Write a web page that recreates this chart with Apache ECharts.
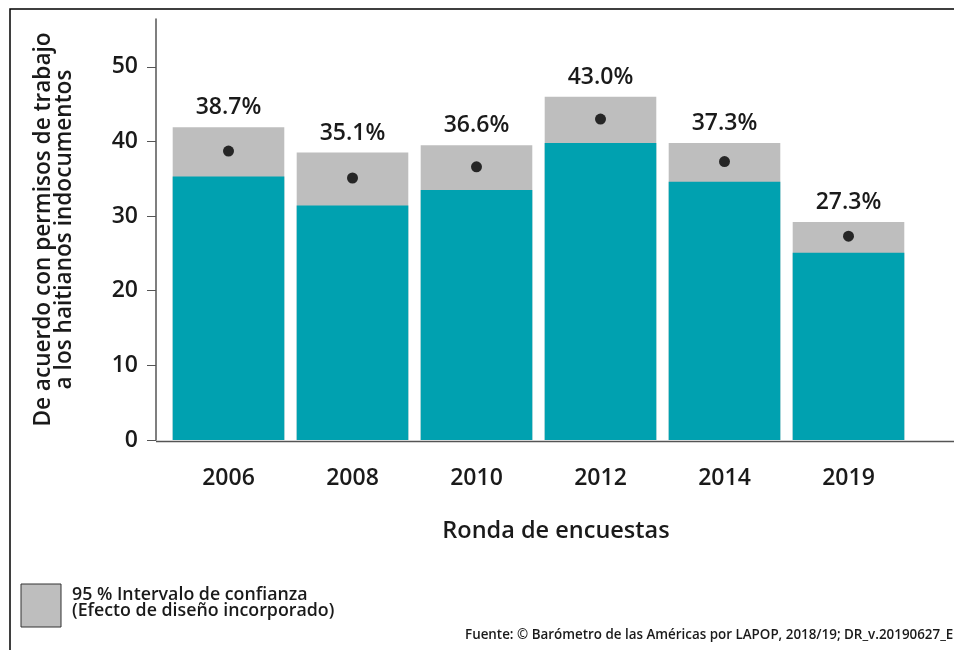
<!DOCTYPE html>
<html><head><meta charset="utf-8">
<script src="https://cdn.jsdelivr.net/npm/echarts@6/dist/echarts.min.js"></script>
<style>html,body{margin:0;padding:0;background:#fff}#c{width:954px;height:650px}</style>
</head><body><div id="c"></div>
<script>
const years = ['2006','2008','2010','2012','2014','2019'];
const estimate = [38.7, 35.1, 36.6, 43.0, 37.3, 27.3];
const ciLow = [35.3, 31.4, 33.5, 39.8, 34.6, 25.1];
const ciHigh = [41.9, 38.5, 39.5, 46.0, 39.8, 29.2];
const yTicks = [0, 10, 20, 30, 40, 50];

const FONT = '"Open Sans", "Noto Sans", sans-serif';
const TXT = '#1a1a1a';
const chart = echarts.init(document.getElementById('c'), null, {renderer: 'canvas'});
chart.setOption({
  animation: false,
  backgroundColor: '#fff',
  grid: {left: 166.5, right: 43.5, top: 19, bottom: 210},
  xAxis: {
    type: 'category', data: years,
    axisLine: {show: false}, axisTick: {show: false},
    axisLabel: {color: TXT, fontSize: 23, fontWeight: 600, fontFamily: FONT, margin: 27},
    name: 'Ronda de encuestas', nameLocation: 'middle', nameGap: 79,
    nameTextStyle: {color: TXT, fontSize: 23.5, fontWeight: 600, fontFamily: FONT, padding: [0, 0, 0, 35]}
  },
  yAxis: {
    type: 'value', min: 0, max: 56.4, interval: 10, offset: 10.5,
    splitLine: {show: false},
    axisLine: {show: true, lineStyle: {color: '#555', width: 1.5}},
    axisTick: {show: true, length: 9, lineStyle: {color: '#555'}},
    axisLabel: {color: TXT, fontSize: 23, fontWeight: 600, fontFamily: FONT, margin: 18, showMaxLabel: false,
      formatter: v => yTicks.includes(v) ? String(v) : ''},
    name: 'De acuerdo con permisos de trabajo\na los haitianos indocumentos',
    nameLocation: 'middle', nameRotate: 90, nameGap: 81,
    nameTextStyle: {color: TXT, fontSize: 22.6, fontWeight: 600, fontFamily: FONT, lineHeight: 21}
  },
  series: [
    {
      type: 'bar', data: ciHigh, barCategoryGap: '10%', barGap: '-100%',
      itemStyle: {color: '#BEBEBE'},
      label: {show: true, position: 'top', distance: 8, color: TXT, fontSize: 23, fontWeight: 600, fontFamily: FONT,
        formatter: p => estimate[p.dataIndex].toFixed(1) + '%'}
    },
    {
      type: 'bar', data: ciLow, barCategoryGap: '10%', barGap: '-100%',
      itemStyle: {color: '#00A1B0'}
    },
    {
      type: 'scatter', data: estimate, symbol: 'circle', symbolSize: 11,
      itemStyle: {color: '#000'}, z: 5
    }
  ],
  graphic: [
    {type: 'rect', shape: {x: 10, y: 9, width: 1000, height: 700}, style: {fill: null, stroke: '#000', lineWidth: 1.5}, silent: true},
    {type: 'line', shape: {x1: 156, y1: 441.5, x2: 954, y2: 441.5}, style: {stroke: '#555', lineWidth: 1.5}, silent: true},
    {type: 'rect', shape: {x: 21, y: 584, width: 40, height: 43}, style: {fill: '#BEBEBE', stroke: '#333', lineWidth: 1}},
    {type: 'text', style: {x: 72, y: 595, text: '95 % Intervalo de confianza', font: '600 17.8px "Open Sans", sans-serif', fill: TXT, textVerticalAlign: 'middle'}},
    {type: 'text', style: {x: 72, y: 611, text: '(Efecto de diseño incorporado)', font: '600 17.8px "Open Sans", sans-serif', fill: TXT, textVerticalAlign: 'middle'}},
    {type: 'text', style: {x: 465, y: 635, text: 'Fuente: © Barómetro de las Américas por LAPOP, 2018/19; DR_v.20190627_E', font: '600 13.4px "Open Sans", sans-serif', fill: TXT, textVerticalAlign: 'middle'}}
  ]
});
</script>
</body></html>
